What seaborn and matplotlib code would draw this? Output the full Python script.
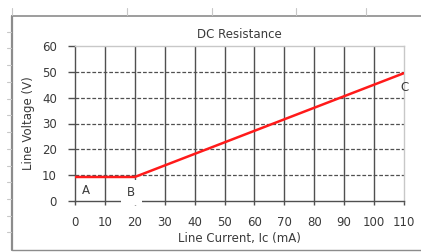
import matplotlib
matplotlib.use("Agg")
import matplotlib.pyplot as plt
from matplotlib.lines import Line2D
import seaborn as sns
import pandas as pd

# data
current_ma = [0, 20, 110]
voltage_v = [9.3, 9.3, 49.5]
x_ticks = [0, 10, 20, 30, 40, 50, 60, 70, 80, 90, 100, 110]
y_ticks = [0, 10, 20, 30, 40, 50, 60]
point_labels = ["A", "B", "C"]
point_x = [2.3, 17.5, 108.8]
point_y = [4.2, 3.2, 43.8]

sns.set_theme(style="white")
plt.rcParams['font.family'] = ['DejaVu Sans']

W, H = 421, 252
fig = plt.figure(figsize=(W / 100, H / 100), dpi=100)
ax = fig.add_axes([75 / W, 1 - 201 / H, (404 - 75) / W, (201 - 46) / H])

# spreadsheet frame behind the chart
light = "#c8c8c8"
frame = "#8c8c8c"
fig.add_artist(Line2D([12 / W, 12 / W], [1 - 16 / H, 1 - 250 / H], color=frame, lw=1.6))
fig.add_artist(Line2D([12 / W, 1], [1 - 16 / H, 1 - 16 / H], color=frame, lw=1.2))
fig.add_artist(Line2D([12 / W, 1], [1 - 250 / H, 1 - 250 / H], color=frame, lw=1.0))
for yy in [32, 48, 65, 82, 99, 115, 132, 149, 166, 182, 199, 216, 232]:
    fig.add_artist(Line2D([7 / W, 11 / W], [1 - yy / H, 1 - yy / H], color=light, lw=0.8))
for xx in [12, 127, 212, 296, 366]:
    fig.add_artist(Line2D([xx / W, xx / W], [1 - 8 / H, 1 - 15 / H], color=light, lw=0.8))

df = pd.DataFrame({"current": current_ma, "voltage": voltage_v})
sns.lineplot(data=df, x="current", y="voltage", color="#ff1a1a", lw=1.8, ax=ax, zorder=5)

ax.set_xlim(0, 110)
ax.set_ylim(0, 60)
ax.set_xticks(x_ticks)
ax.set_yticks(y_ticks)

dark = "#505050"
for xv in x_ticks[1:-1]:
    ax.axvline(xv, color=dark, lw=1.0, zorder=1)
for yv in y_ticks[1:-1]:
    ax.axhline(yv, color=dark, lw=0.9, ls=(0, (3, 1.5)), zorder=1)

for side in ["top", "right"]:
    ax.spines[side].set_color(light)
    ax.spines[side].set_linewidth(1.0)
for side in ["left", "bottom"]:
    ax.spines[side].set_color(dark)
    ax.spines[side].set_linewidth(1.0)

txt = "#3a3a3a"
ax.tick_params(axis="both", which="both", direction="out", colors=dark,
               labelcolor=txt, labelsize=8.5, width=1.0)
ax.tick_params(axis="y", length=5, pad=8, left=True)
ax.tick_params(axis="x", length=3, pad=8, bottom=True)

ax.set_xlabel("Line Current, Ic (mA)", fontsize=8.5, color=txt, labelpad=2)
ax.set_ylabel("Line Voltage (V)", fontsize=8.5, color=txt, labelpad=5)
ax.set_title("DC Resistance", fontsize=8.5, color=txt, pad=6)

for lab, px, py in zip(point_labels, point_x, point_y):
    bg = dict(facecolor="white", edgecolor="none", pad=4.5) if lab == "B" else None
    ax.text(px, py, lab, fontsize=8.5, color=txt, ha="left", va="center",
            bbox=bg, zorder=6, clip_on=False)

fig.savefig("out.png", dpi=100, facecolor="white")
